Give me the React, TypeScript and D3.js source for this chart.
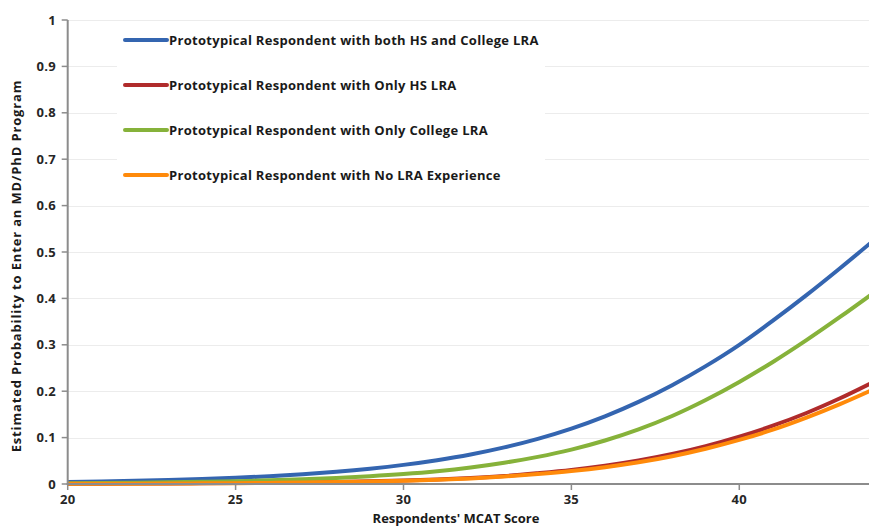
import React, { useEffect, useRef } from "react";
import * as d3 from "d3";

const scores = [20, 21, 22, 23, 24, 25, 26, 27, 28, 29, 30, 31, 32, 33, 34, 35, 36, 37, 38, 39, 40, 41, 42, 43, 44];
const bothLRA = [0.0043, 0.0054, 0.0068, 0.0085, 0.0107, 0.0134, 0.0168, 0.0211, 0.0264, 0.033, 0.0412, 0.0513, 0.0637, 0.079, 0.0974, 0.1195, 0.1459, 0.177, 0.213, 0.2541, 0.3, 0.352, 0.407, 0.465, 0.525];
const onlyHS = [0.0005, 0.0007, 0.0009, 0.0011, 0.0015, 0.002, 0.0026, 0.0034, 0.0044, 0.0058, 0.0076, 0.0099, 0.0129, 0.0171, 0.0232, 0.0302, 0.0392, 0.0505, 0.0645, 0.0816, 0.102, 0.1256, 0.153, 0.1847, 0.22];
const onlyCollege = [0.0017, 0.0022, 0.0029, 0.0037, 0.0048, 0.0061, 0.0079, 0.0101, 0.0131, 0.0168, 0.0215, 0.0276, 0.0356, 0.0458, 0.0585, 0.0742, 0.0938, 0.1178, 0.1466, 0.181, 0.22, 0.263, 0.31, 0.36, 0.412];
const noLRA = [0.0005, 0.0006, 0.0008, 0.001, 0.0014, 0.0018, 0.0024, 0.0031, 0.0041, 0.0053, 0.007, 0.0091, 0.0121, 0.0162, 0.0215, 0.028, 0.0363, 0.0468, 0.0599, 0.0759, 0.095, 0.117, 0.143, 0.172, 0.204];

const seriesNames = [
  "Prototypical Respondent with both HS and College LRA",
  "Prototypical Respondent with Only HS LRA",
  "Prototypical Respondent with Only College LRA",
  "Prototypical Respondent with No LRA Experience",
];
const seriesValues = [bothLRA, onlyHS, onlyCollege, noLRA];
const seriesColors = ["#3465b0", "#b02b2b", "#86b23a", "#ff8a0a"];
const xTicks = [20, 25, 30, 35, 40];
const yTicks = [0, 0.1, 0.2, 0.3, 0.4, 0.5, 0.6, 0.7, 0.8, 0.9, 1];
const xTitle = "Respondents' MCAT Score";
const yTitle = "Estimated Probability to Enter an MD/PhD Program";

const W = 869;
const H = 527;

export default function App() {
  const ref = useRef<SVGSVGElement>(null);

  useEffect(() => {
    const svg = d3.select(ref.current);
    svg.selectAll("*").remove();
    const font = "'Open Sans', 'DejaVu Sans', sans-serif";

    const x = d3.scaleLinear().domain([20, 44]).range([67.7, 873.6]);
    const y = d3.scaleLinear().domain([0, 1]).range([484, 20]);

    svg.append("rect").attr("width", W).attr("height", H).attr("fill", "#fff");

    // gridlines
    svg.append("g")
      .selectAll("line")
      .data(yTicks.filter((d) => d > 0))
      .join("line")
      .attr("x1", x(20))
      .attr("x2", W)
      .attr("y1", (d) => Math.round(y(d)) + 0.5)
      .attr("y2", (d) => Math.round(y(d)) + 0.5)
      .attr("stroke", "#ececec")
      .attr("stroke-width", 1);

    const defs = svg.append("defs");
    defs.append("clipPath").attr("id", "plotclip")
      .append("rect").attr("x", x(20)).attr("y", 0).attr("width", W - x(20)).attr("height", 486);

    const line = d3.line<[number, number]>()
      .x((d) => x(d[0]))
      .y((d) => y(d[1]))
      .curve(d3.curveMonotoneX);

    const gLines = svg.append("g").attr("clip-path", "url(#plotclip)");
    seriesValues.forEach((vals, i) => {
      gLines.append("path")
        .datum(scores.map((s, j) => [s, vals[j]] as [number, number]))
        .attr("d", line)
        .attr("fill", "none")
        .attr("stroke", seriesColors[i])
        .attr("stroke-width", 4)
        .attr("stroke-linecap", "round");
    });

    // axes
    const axisColor = "#8c8c8c";
    svg.append("line").attr("x1", x(20)).attr("x2", x(20)).attr("y1", y(1)).attr("y2", y(0) + 1)
      .attr("stroke", axisColor).attr("stroke-width", 2);
    svg.append("line").attr("x1", x(20) - 1).attr("x2", W).attr("y1", y(0)).attr("y2", y(0))
      .attr("stroke", axisColor).attr("stroke-width", 2);

    const yt = svg.append("g");
    yTicks.forEach((t) => {
      yt.append("line").attr("x1", x(20) - 6).attr("x2", x(20)).attr("y1", y(t)).attr("y2", y(t))
        .attr("stroke", axisColor).attr("stroke-width", 1.5);
      yt.append("text").attr("x", 56).attr("y", y(t)).attr("dy", "0.36em")
        .attr("text-anchor", "end").attr("font-family", font).attr("font-weight", 700)
        .attr("font-size", 13).attr("letter-spacing", 0.3).attr("fill", "#262626").text(d3.format("~g")(t));
    });

    const xt = svg.append("g");
    xTicks.forEach((t) => {
      xt.append("line").attr("x1", x(t)).attr("x2", x(t)).attr("y1", y(0)).attr("y2", y(0) + 6)
        .attr("stroke", axisColor).attr("stroke-width", 1.5);
      xt.append("text").attr("x", x(t)).attr("y", 504)
        .attr("text-anchor", "middle").attr("font-family", font).attr("font-weight", 700)
        .attr("font-size", 13).attr("letter-spacing", 0.3).attr("fill", "#262626").text(String(t));
    });

    svg.append("text").attr("x", 456).attr("y", 523)
      .attr("text-anchor", "middle").attr("font-family", font).attr("font-weight", 700)
      .attr("font-size", 13).attr("fill", "#1a1a1a").text(xTitle);

    svg.append("text")
      .attr("transform", `translate(21, 266) rotate(-90)`)
      .attr("text-anchor", "middle").attr("font-family", font).attr("font-weight", 700)
      .attr("font-size", 13).attr("letter-spacing", 0.85).attr("fill", "#1a1a1a").text(yTitle);

    // legend
    const lg = svg.append("g");
    lg.append("rect").attr("x", 117).attr("y", 22).attr("width", 428).attr("height", 172).attr("fill", "#fff");
    seriesNames.forEach((name, i) => {
      const cy = 40 + i * 45;
      lg.append("line").attr("x1", 125).attr("x2", 167).attr("y1", cy).attr("y2", cy)
        .attr("stroke", seriesColors[i]).attr("stroke-width", 4).attr("stroke-linecap", "round");
      lg.append("text").attr("x", 169).attr("y", cy).attr("dy", "0.36em")
        .attr("font-family", font).attr("font-weight", 700).attr("font-size", 13)
        .attr("letter-spacing", 0.3).attr("fill", "#1a1a1a").text(name);
    });
  }, []);

  return (
    <>
      <style>{`body{margin:0}`}</style>
      <svg ref={ref} width={W} height={H} style={{ display: "block" }} />
    </>
  );
}
